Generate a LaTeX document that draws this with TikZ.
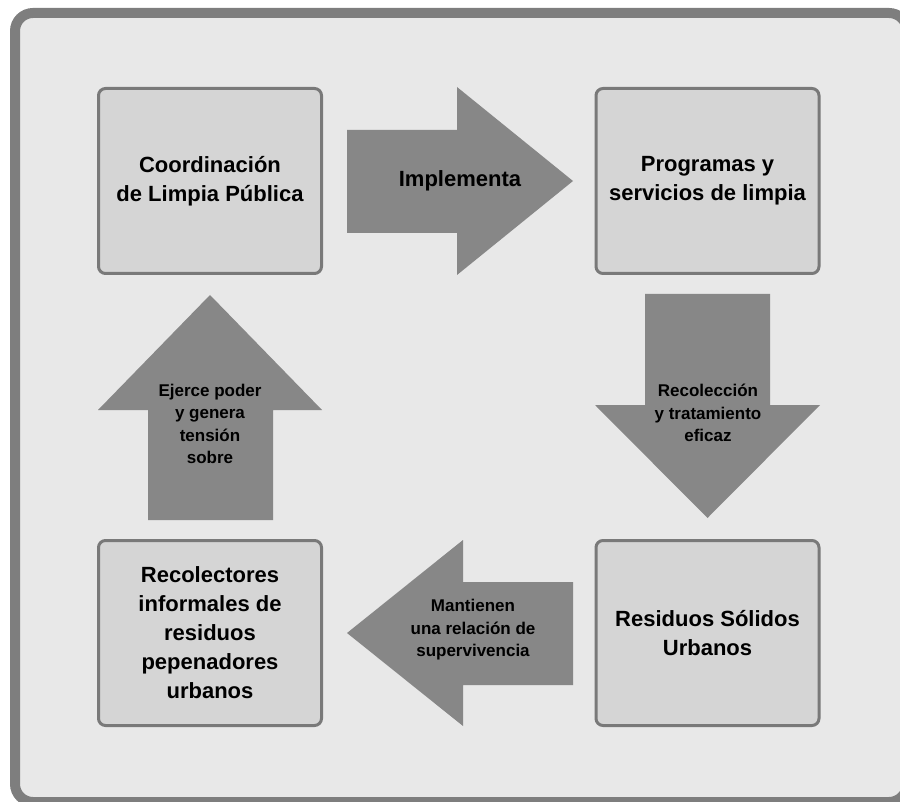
\documentclass[tikz,border=0pt]{standalone}
\usepackage{fontspec}
\setmainfont{Liberation Sans}
\definecolor{bgfill}{HTML}{E8E8E8}
\definecolor{framegray}{HTML}{7E7E7E}
\definecolor{boxfill}{HTML}{D5D5D5}
\definecolor{boxgray}{HTML}{797979}
\definecolor{arrowgray}{HTML}{878787}

\begin{document}
\begin{tikzpicture}[x=1pt, y=-1pt,
    box/.style={draw=boxgray, line width=3pt, fill=boxfill, rounded corners=7pt,
        minimum width=223pt, minimum height=185pt, align=center,
        font=\bfseries\fontsize{22}{29}\selectfont},
    blockarrow/.style={fill=arrowgray, draw=none},
    arrowlabel/.style={align=center, font=\bfseries\fontsize{17}{22.5}\selectfont}]
    \useasboundingbox (0,0) rectangle (900,802);
    \clip (0,0) rectangle (900,802);

    % Frame
    \draw[line width=10pt, draw=framegray, fill=bgfill, rounded corners=18pt] (15,13) rectangle (907,802);

    % Nodes
    \node[box] (coord) at (210,181) {Coordinación\\de Limpia Pública};
    \node[box] (progr) at (707.5,181) {Programas y\\servicios de limpia};
    \node[box] (resid) at (707.5,633) {Residuos Sólidos\\Urbanos};
    \node[box] (recol) at (210,633) {Recolectores\\informales de\\residuos\\pepenadores\\urbanos};

    % Arrows
    \fill[blockarrow] (347,130) -- (457,130) -- (457,87) -- (573,181) -- (457,275) -- (457,233) -- (347,233) -- cycle;
    \fill[blockarrow] (645,294) -- (770,294) -- (770,405) -- (820,405) -- (707.5,518) -- (595,405) -- (645,405) -- cycle;
    \fill[blockarrow] (573,582) -- (463,582) -- (463,540) -- (347,633) -- (463,726) -- (463,685) -- (573,685) -- cycle;
    \fill[blockarrow] (148,520) -- (148,410) -- (98,410) -- (210,295) -- (322,410) -- (273,410) -- (273,520) -- cycle;

    % Labels
    \node[arrowlabel, font=\bfseries\fontsize{22}{29}\selectfont] (impl) at (460,181) {Implementa};
    \node[arrowlabel] (trat) at (708,413) {Recolección\\y tratamiento\\eficaz};
    \node[arrowlabel] (mant) at (473,630) {Mantienen\\una relación de\\supervivencia};
    \node[arrowlabel] (ejer) at (210,424) {Ejerce poder\\y genera\\tensión\\sobre};
\end{tikzpicture}
\end{document}
